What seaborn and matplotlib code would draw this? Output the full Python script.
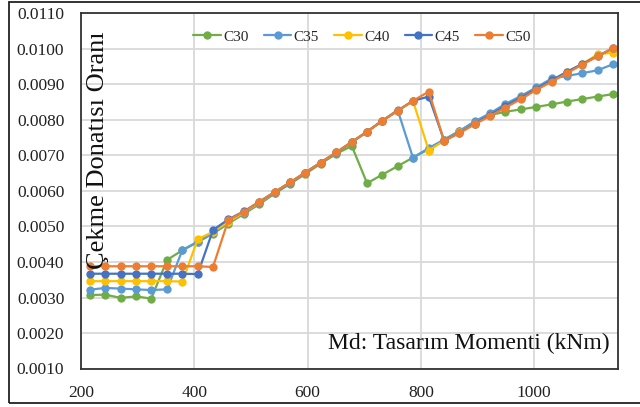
import numpy as np
import pandas as pd
import seaborn as sns
import matplotlib
matplotlib.use("Agg")
import matplotlib.pyplot as plt
from matplotlib.lines import Line2D
from matplotlib.patches import Rectangle

# Md: tasarim momenti (kNm)
md = [216, 243, 270, 297, 324, 352, 379, 406, 433, 460, 488, 515, 542, 569, 596,
      623, 651, 678, 705, 732, 759, 786, 814, 841, 868, 895, 922, 949, 977, 1004,
      1031, 1058, 1085, 1112, 1139]

c30 = [0.00307, 0.00308, 0.00299, 0.00303, 0.00297, 0.00406, 0.00433, 0.00456, 0.00480,
       0.00508, 0.00536, 0.00563, 0.00593, 0.00620, 0.00648, 0.00677, 0.00705, 0.00727,
       0.00622, 0.00646, 0.00670, 0.00694, 0.00718, 0.00744, 0.00768, 0.00795, 0.00814,
       0.00823, 0.00830, 0.00837, 0.00844, 0.00852, 0.00859, 0.00866, 0.00873]
c35 = [0.00322, 0.00327, 0.00325, 0.00323, 0.00321, 0.00323, 0.00434, 0.00457, 0.00482,
       0.00512, 0.00538, 0.00566, 0.00595, 0.00622, 0.00650, 0.00679, 0.00708, 0.00737,
       0.00767, 0.00798, 0.00828, 0.00694, 0.00721, 0.00745, 0.00769, 0.00796, 0.00819,
       0.00845, 0.00868, 0.00892, 0.00917, 0.00924, 0.00932, 0.00940, 0.00957]
c40 = [0.00346, 0.00346, 0.00346, 0.00346, 0.00346, 0.00346, 0.00345, 0.00464, 0.00485,
       0.00513, 0.00540, 0.00568, 0.00597, 0.00624, 0.00652, 0.00680, 0.00709, 0.00738,
       0.00767, 0.00798, 0.00826, 0.00854, 0.00714, 0.00742, 0.00765, 0.00790, 0.00813,
       0.00838, 0.00862, 0.00887, 0.00910, 0.00935, 0.00958, 0.00985, 0.00990]
c45 = [0.00367, 0.00367, 0.00367, 0.00367, 0.00367, 0.00367, 0.00367, 0.00366, 0.00490,
       0.00520, 0.00543, 0.00570, 0.00597, 0.00624, 0.00652, 0.00680, 0.00709, 0.00738,
       0.00767, 0.00798, 0.00826, 0.00854, 0.00866, 0.00742, 0.00764, 0.00790, 0.00814,
       0.00840, 0.00863, 0.00888, 0.00912, 0.00936, 0.00958, 0.00980, 0.01002]
c50 = [0.00388, 0.00388, 0.00388, 0.00388, 0.00388, 0.00388, 0.00388, 0.00388, 0.00386,
       0.00518, 0.00542, 0.00570, 0.00597, 0.00624, 0.00652, 0.00680, 0.00709, 0.00738,
       0.00767, 0.00798, 0.00826, 0.00854, 0.00880, 0.00741, 0.00763, 0.00788, 0.00811,
       0.00835, 0.00859, 0.00885, 0.00908, 0.00932, 0.00956, 0.00979, 0.01003]

seriler = ["C30", "C35", "C40", "C45", "C50"]
renkler = ["#70AD47", "#5B9BD5", "#FFC000", "#4472C4", "#ED7D31"]

df = pd.concat([pd.DataFrame({"md": md, "oran": v, "seri": s})
                for s, v in zip(seriler, [c30, c35, c40, c45, c50])])

sns.set_style("white")
plt.rcParams["font.family"] = ["Liberation Serif", "DejaVu Serif"]

fig = plt.figure(figsize=(6.4, 4.07), dpi=100)
ax = fig.add_axes([81 / 640, 1 - 368.5 / 407, 537 / 640, 355 / 407])

sns.lineplot(data=df, x="md", y="oran", hue="seri", hue_order=seriler,
             palette=renkler, marker="o", markersize=6, markeredgewidth=0,
             linewidth=1.6, legend=False, ax=ax)

ax.set_xlim(200, 1148)
ax.set_ylim(0.001, 0.011)
ax.set_xticks([200, 400, 600, 800, 1000])
ax.set_yticks(np.arange(0.001, 0.0111, 0.001))
ax.yaxis.set_major_formatter(plt.FormatStrFormatter("%.4f"))
ax.tick_params(length=0, labelsize=12.5, pad=12, colors="#222222")
ax.grid(True, color="#d9d9d9", linewidth=1.3)
ax.set_axisbelow(True)
for sp in ax.spines.values():
    sp.set_color("#333333")
    sp.set_linewidth(1.3)
ax.set_xlabel("")
ax.set_ylabel("")

ax.text(0.032, 0.615, "Çekme Donatısı Oranı", transform=ax.transAxes,
        rotation=90, ha="center", va="center", fontsize=19, color="#111111")
ax.text(0.985, 0.04, "Md: Tasarım Momenti (kNm)", transform=ax.transAxes,
        ha="right", va="bottom", fontsize=17, color="#111111")

handles = [Line2D([], [], color=c, marker="o", markersize=6, markeredgewidth=0,
                  linewidth=1.6) for c in renkler]
ax.legend(handles, seriler, ncol=5, loc="center", bbox_to_anchor=(0.523, 0.934),
          frameon=False, fontsize=11, handlelength=1.8, handletextpad=0.15,
          columnspacing=1.0)

fig.add_artist(Rectangle((9 / 640, 4 / 407), 640 / 640, 401.5 / 407,
                         transform=fig.transFigure, fill=False,
                         edgecolor="#222222", linewidth=1.3))

fig.savefig("out.png", dpi=100)
